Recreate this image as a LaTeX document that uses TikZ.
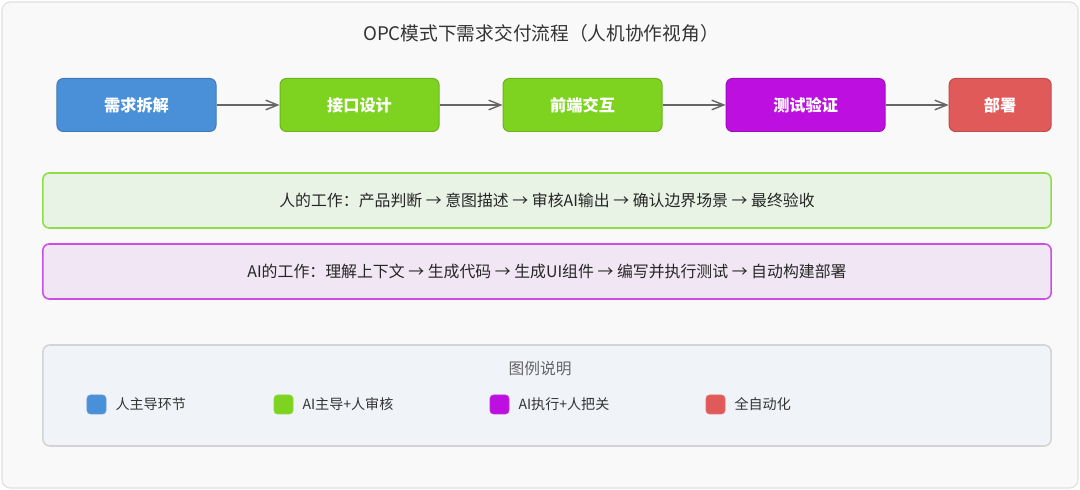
\documentclass[tikz,border=0pt]{standalone}
\usepackage{fontspec}
\setmainfont{Noto Sans CJK SC}
\usepackage{xcolor}
\usetikzlibrary{arrows.meta, positioning}
\definecolor{humanblue}{HTML}{4A90D9}
\definecolor{aigreen}{HTML}{7ED321}
\definecolor{aipurple}{HTML}{BD10E0}
\definecolor{autored}{HTML}{E05A5A}
\definecolor{framebg}{HTML}{F9F9F9}
\definecolor{legendbg}{HTML}{F0F3F8}
\definecolor{humanlane}{HTML}{E8F3E6}
\definecolor{humanedge}{HTML}{8EDC48}
\definecolor{ailane}{HTML}{F0E6F4}
\definecolor{aiedge}{HTML}{CC4EE6}

\begin{document}
\begin{tikzpicture}[
  x=0.025cm, y=-0.025cm,
  node distance=1.575cm,
  stage/.style={rectangle, rounded corners=4.5pt, draw=#1!85!black, line width=0.7pt, fill=#1, text=white, minimum width=3.975cm, minimum height=1.325cm, font=\fontsize{11.5}{13}\selectfont\bfseries},
  lane/.style={rectangle, rounded corners=4.5pt, line width=1.1pt, minimum width=25.2cm, minimum height=1.375cm, text=black!85, font=\fontsize{11.3}{13}\selectfont},
  keybox/.style={rectangle, rounded corners=2.5pt, fill=#1, draw=#1!90!white, minimum size=0.475cm, inner sep=0pt},
  keytext/.style={right=0.225cm of #1, inner sep=0pt, text=black!80, font=\fontsize{10}{12}\selectfont},
  flow/.style={-{Straight Barb[length=0.3cm, width=0.24cm]}, draw=black!60, line width=1pt},
]
% frame and background
\fill[white] (0,0) rectangle (1080,490);
\filldraw[fill=framebg, draw=black!12, line width=0.8pt, rounded corners=6pt] (2,2) rectangle (1078,488);

\node[text=black!80, font=\fontsize{13.3}{15}\selectfont] (title) at (541,33) {OPC模式下需求交付流程（人机协作视角）};

% stages
\node[stage=humanblue] (split) at (136.5,105) {需求拆解};
\node[stage=aigreen, right=of split] (api) {接口设计};
\node[stage=aigreen, right=of api] (front) {前端交互};
\node[stage=aipurple, right=of front] (test) {测试验证};
\node[stage=autored, right=of test, minimum width=2.55cm] (deploy) {部署};

\draw[flow] (split) -- (api);
\draw[flow] (api) -- (front);
\draw[flow] (front) -- (test);
\draw[flow] (test) -- (deploy);

% work lanes
\node[lane, fill=humanlane, draw=humanedge] (human) at (547,200.5)
  {人的工作：产品判断 → 意图描述 → 审核AI输出 → 确认边界场景 → 最终验收};
\node[lane, fill=ailane, draw=aiedge] (ai) at (547,271.5)
  {AI的工作：理解上下文 → 生成代码 → 生成UI组件 → 编写并执行测试 → 自动构建部署};

% legend
\node[rectangle, rounded corners=5pt, fill=legendbg, draw=black!17, line width=1.1pt, minimum width=25.2cm, minimum height=2.525cm] (legend) at (547,395.5) {};
\node[text=black!60, font=\fontsize{11.2}{13}\selectfont] (legendtitle) at (540,369) {图例说明};

\node[keybox=humanblue] (k1) at (96.5,404.5) {};
\node[keytext=k1] (t1) {人主导环节};
\node[keybox=aigreen] (k2) at (283.5,404.5) {};
\node[keytext=k2] (t2) {AI主导+人审核};
\node[keybox=aipurple] (k3) at (499.5,404.5) {};
\node[keytext=k3] (t3) {AI执行+人把关};
\node[keybox=autored] (k4) at (715.5,404.5) {};
\node[keytext=k4] (t4) {全自动化};
\end{tikzpicture}
\end{document}
